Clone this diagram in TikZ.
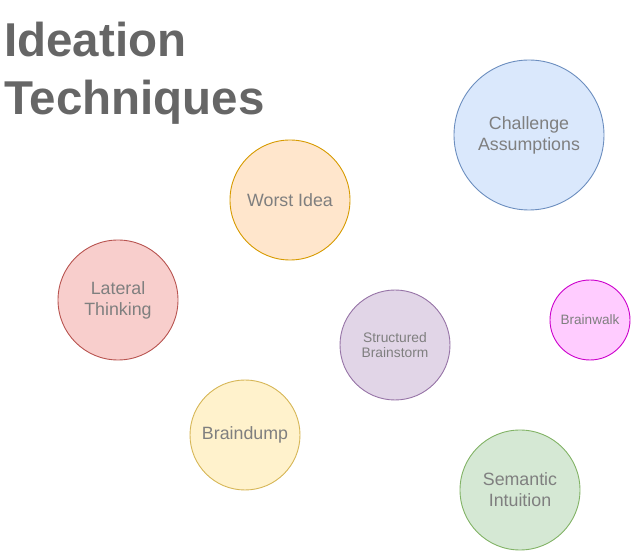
\documentclass[tikz,border=0pt]{standalone}
\usepackage{fontspec}
\setmainfont{Liberation Sans}
\definecolor{bluef}{HTML}{DAE8FC}\definecolor{blued}{HTML}{6C8EBF}
\definecolor{orangef}{HTML}{FFE6CC}\definecolor{oranged}{HTML}{D79B00}
\definecolor{redf}{HTML}{F8CECC}\definecolor{redd}{HTML}{B85450}
\definecolor{purplef}{HTML}{E1D5E7}\definecolor{purpled}{HTML}{9673A6}
\definecolor{yellowf}{HTML}{FFF2CC}\definecolor{yellowd}{HTML}{D6B656}
\definecolor{greenf}{HTML}{D5E8D4}\definecolor{greend}{HTML}{82B366}
\definecolor{pinkf}{HTML}{FFCCFF}\definecolor{pinkd}{HTML}{CC00CC}
\definecolor{txtgray}{HTML}{7F7F7F}
\definecolor{titlegray}{HTML}{666666}
\begin{document}
\begin{tikzpicture}[x=1pt,y=-1pt,
  bub/.style={circle, draw, line width=0.9pt, inner sep=0pt, minimum size=#1, text=txtgray, align=center},
  bigtxt/.style={font=\fontsize{17.8}{21}\selectfont},
  smalltxt/.style={font=\fontsize{13.8}{15}\selectfont}]
\useasboundingbox (0,0) rectangle (633,553);
\node[anchor=base west, align=left, inner sep=0pt, text=titlegray,
  font=\fontsize{47.5}{57.5}\selectfont\bfseries] (title) at (4,114.5) {Ideation\\Techniques};
\node[bub=150pt, fill=bluef, draw=blued, bigtxt] (challenge) at (529,135) {Challenge\\Assumptions};
\node[bub=120pt, fill=orangef, draw=oranged, bigtxt] (worst) at (290,200) {Worst Idea};
\node[bub=120pt, fill=redf, draw=redd, bigtxt] (lateral) at (118,300) {Lateral\\Thinking};
\node[bub=110pt, fill=purplef, draw=purpled, smalltxt] (structured) at (395,345) {Structured\\Brainstorm};
\node[bub=80pt, fill=pinkf, draw=pinkd, font=\fontsize{13.6}{15}\selectfont] (brainwalk) at (590,320) {Brainwalk};
\node[bub=110pt, fill=yellowf, draw=yellowd, bigtxt] (braindump) at (245,435) {Braindump};
\node[bub=120pt, fill=greenf, draw=greend, bigtxt] (semantic) at (520,490) {Semantic\\Intuition};
\end{tikzpicture}
\end{document}
